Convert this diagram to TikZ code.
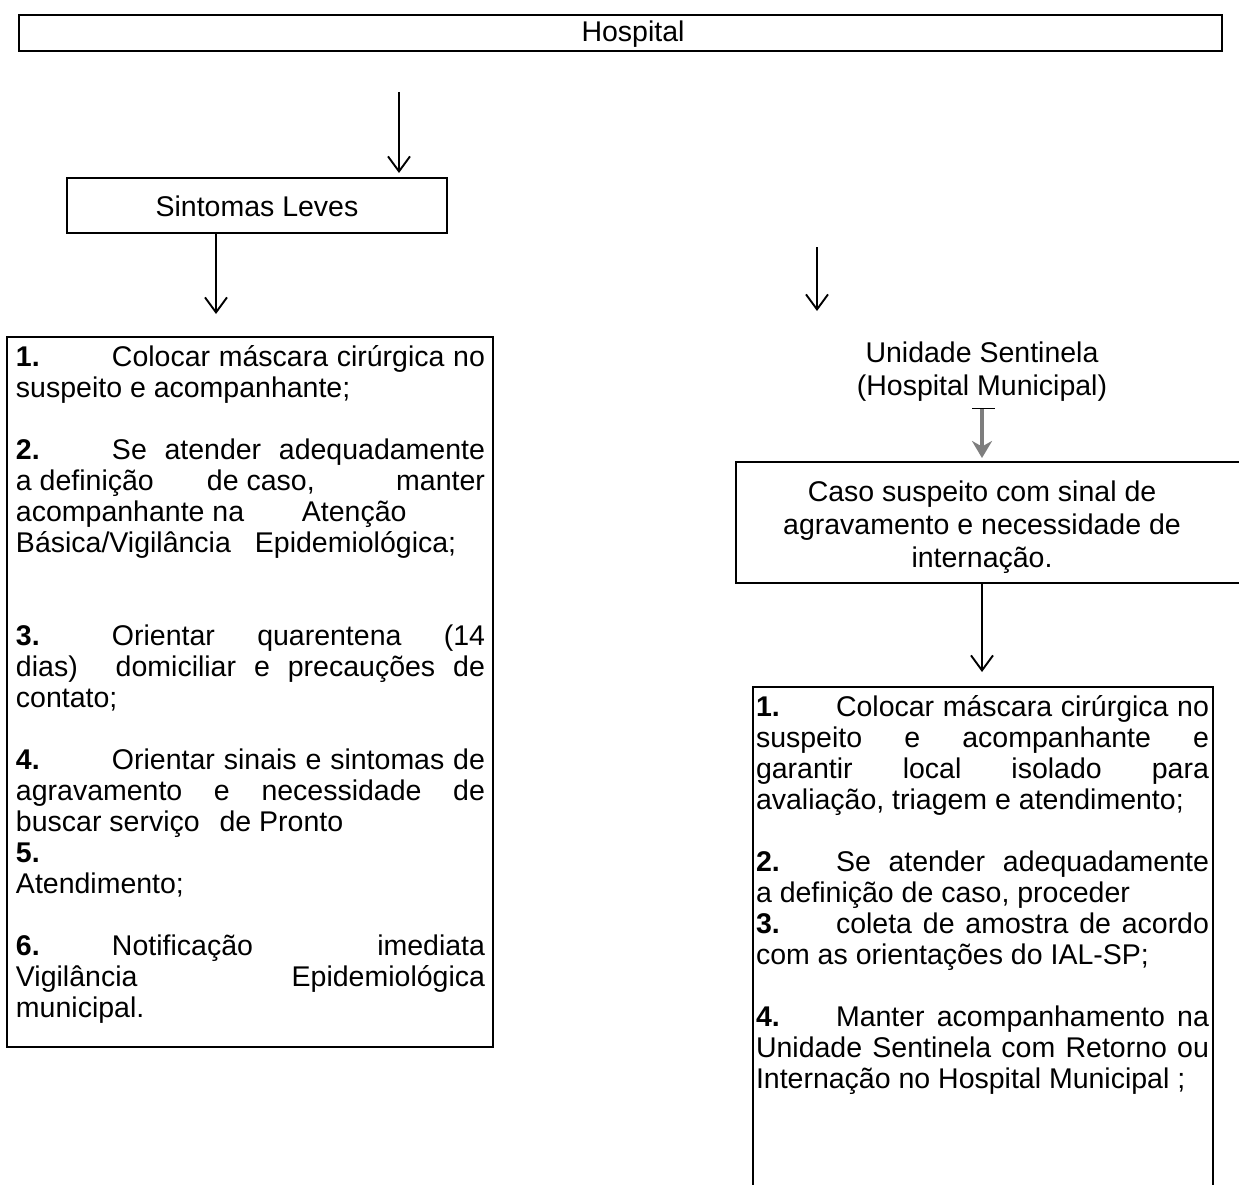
\documentclass[tikz,border=0pt]{standalone}
\usepackage{fontspec}
\setmainfont{Liberation Sans}
\usetikzlibrary{arrows.meta}
\newcommand\JL[1]{\makebox[469pt][s]{#1}}
\newcommand\IL[2]{\makebox[96pt][l]{\textbf{#1.}}\makebox[373pt][s]{#2}}
\newcommand\JR[1]{\makebox[453pt][s]{#1}}
\newcommand\IR[2]{\makebox[80pt][l]{\textbf{#1.}}\makebox[373pt][s]{#2}}
\newcommand\FS{\rule{0pt}{30pt}}
\begin{document}
\begin{tikzpicture}[x=1pt,y=-1pt,
  every node/.style={font=\fontsize{28.5}{31}\selectfont, inner sep=0pt, outer sep=0pt},
  frame/.style={draw, line width=2.3pt, anchor=north west},
  flow/.style={line width=1.9pt, -{Straight Barb[length=15pt,width=22pt]}},
  body/.style={align=left, anchor=north west},
  ctext/.style={align=center, anchor=north, font=\fontsize{28.5}{33}\selectfont}]
\useasboundingbox (0,0) rectangle (1239,1185);
\fill[white] (0,0) rectangle (1239,1185);
\clip (0,0) rectangle (1239,1185);

% boxes
\node[frame, minimum width=1203, minimum height=36] (hosp) at (19,15) {};
\node[frame, minimum width=380, minimum height=55] (sint) at (67,178) {};
\node[frame, minimum width=486, minimum height=710] (lbox) at (7,337) {};
\node[frame, minimum width=520, minimum height=121] (caso) at (736,462) {};
\node[frame, minimum width=460, minimum height=540] (rbox) at (753,687) {};

% texts
\node[anchor=base] (hosptxt) at (633,42) {Hospital};
\node[anchor=base] (sinttxt) at (257,216) {Sintomas Leves};
\node[ctext] (unid) at (982,332) {\FS Unidade Sentinela\\(Hospital Municipal)};
\node[ctext] (casotxt) at (982,471) {\FS Caso suspeito com sinal de\\agravamento e necessidade de\\internação.};

\node[body] (ltxt) at (16,336) {\FS\IL{1}{Colocar máscara cirúrgica no}\\
suspeito e acompanhante;\\
\mbox{}\\
\IL{2}{Se atender adequadamente}\\
\makebox[469pt][l]{\makebox[191pt][l]{a definição}de caso,\hfill manter}\\
\makebox[286pt][l]{acompanhante na}Atenção\\
\makebox[239pt][l]{Básica/Vigilância}Epidemiológica;\\
\mbox{}\\
\mbox{}\\
\IL{3}{Orientar quarentena (14}\\
\JL{dias)\hspace{20pt} domiciliar e precauções de}\\
contato;\\
\mbox{}\\
\IL{4}{Orientar sinais e sintomas de}\\
\JL{agravamento e necessidade de}\\
buscar serviço\hspace{12pt} de Pronto\\
\textbf{5.}\\
Atendimento;\\
\mbox{}\\
\IL{6}{Notificação imediata}\\
\JL{Vigilância Epidemiológica}\\
municipal.};

\node[body] (rtxt) at (756,686) {\FS\IR{1}{Colocar máscara cirúrgica no}\\
\JR{suspeito e acompanhante e}\\
\JR{garantir local isolado para}\\
avaliação, triagem e atendimento;\\
\mbox{}\\
\IR{2}{Se atender adequadamente}\\
a definição de caso, proceder\\
\IR{3}{coleta de amostra de acordo}\\
com as orientações do IAL-SP;\\
\mbox{}\\
\IR{4}{Manter acompanhamento na}\\
\JR{Unidade Sentinela com Retorno ou}\\
Internação no Hospital Municipal ;};

% connectors
\coordinate (a0) at (399,92);
\draw[flow, shorten >=5pt] (a0) -- (a0 |- sint.north);
\coordinate (b1) at (216,314);
\draw[flow] (sint.south -| b1) -- (b1);
\coordinate (c0) at (817,247);
\coordinate (c1) at (817,311);
\draw[flow] (c0) -- (c1);
\coordinate (g0) at (982,408);
\draw[gray!55!black!70, line width=4.5pt, shorten >=4pt, -{Stealth[length=17pt,width=20pt]}] (g0) -- (g0 |- caso.north);
\draw[line width=0.8pt] ([xshift=-10pt]g0) -- ([xshift=13pt]g0);
\coordinate (d1) at (982,672);
\draw[flow] (caso.south -| d1) -- (d1);
\end{tikzpicture}
\end{document}
